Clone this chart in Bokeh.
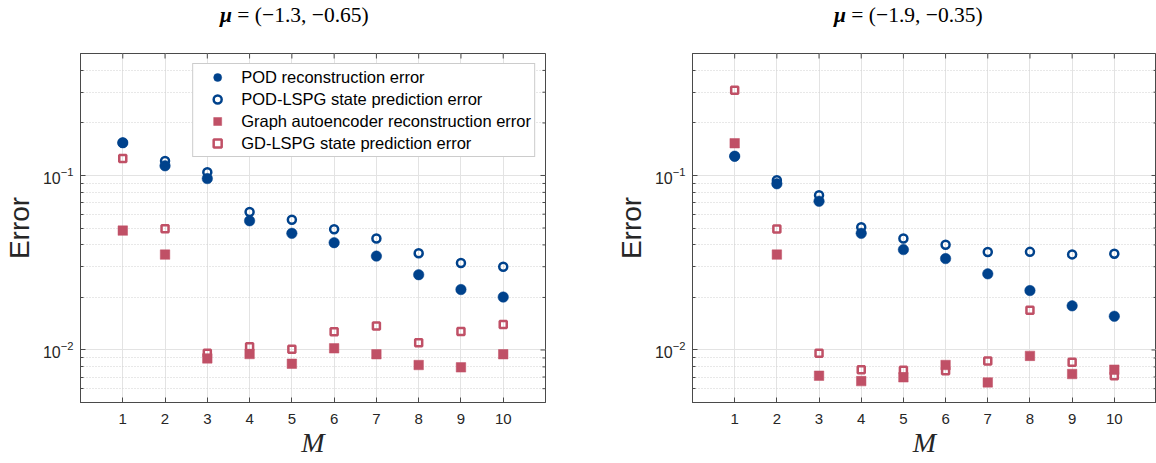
import math
from bokeh.plotting import figure
from bokeh.models import (Range1d, FixedTicker, Legend, LegendItem, Div,
                          LogTickFormatter)
from bokeh.layouts import row, column
from bokeh.embed import file_html
from bokeh.resources import INLINE

# ---------------- data ----------------
M = [1, 2, 3, 4, 5, 6, 7, 8, 9, 10]

titles = [("\u03bc", "= (\u22121.3, \u22120.65)"),
          ("\u03bc", "= (\u22121.9, \u22120.35)")]

# left panel  mu = (-1.3, -0.65)
pod_rec_L   = [0.154, 0.1136, 0.096, 0.055, 0.0466, 0.0412, 0.0345, 0.027, 0.0222, 0.0201]
pod_lspg_L  = [0.154, 0.121, 0.1045, 0.0618, 0.0558, 0.0492, 0.0435, 0.0358, 0.0315, 0.0300]
gae_rec_L   = [0.0483, 0.0352, 0.00895, 0.00948, 0.00834, 0.01022, 0.00945, 0.0082, 0.00795, 0.00945]
gd_lspg_L   = [0.125, 0.0495, 0.00957, 0.01045, 0.0101, 0.0127, 0.01374, 0.0110, 0.01274, 0.0140]

# right panel mu = (-1.9, -0.35)
pod_rec_R   = [0.129, 0.0896, 0.0712, 0.0466, 0.0376, 0.0334, 0.0273, 0.0219, 0.0179, 0.0156]
pod_lspg_R  = [0.129, 0.094, 0.077, 0.0505, 0.0435, 0.0401, 0.0364, 0.0365, 0.0353, 0.0356]
gae_rec_R   = [0.153, 0.0352, 0.00712, 0.00663, 0.00697, 0.0082, 0.00652, 0.00925, 0.00728, 0.00771]
gd_lspg_R   = [0.308, 0.0494, 0.00957, 0.0077, 0.00764, 0.0076, 0.00865, 0.0169, 0.0085, 0.00712]

legend_labels = ["POD reconstruction error",
                 "POD-LSPG state prediction error",
                 "Graph autoencoder reconstruction error",
                 "GD-LSPG state prediction error"]

x_lo, x_hi = 0, 11
y_lo, y_hi = 0.005, 0.5
y_major = [0.01, 0.1]
y_minor = [0.005, 0.006, 0.007, 0.008, 0.009,
           0.02, 0.03, 0.04, 0.05, 0.06, 0.07, 0.08, 0.09,
           0.2, 0.3, 0.4, 0.5]

BLUE = "#00428C"
PINK = "#C05066"
AX = "#4a4a4a"
TXT = "#262626"
SANS = "Liberation Sans"
SERIF = "Liberation Serif"

TITLE_H = 48


def make(width, ml, mr, data, show_legend):
    pod, podl, gae, gdl = data
    p = figure(width=width, height=463 - TITLE_H, x_range=Range1d(x_lo, x_hi),
               y_range=Range1d(y_lo, y_hi), y_axis_type="log",
               output_backend="svg", toolbar_location=None,
               min_border_left=ml, min_border_right=mr,
               min_border_top=53 - TITLE_H, min_border_bottom=61)
    p.margin = 0
    p.background_fill_color = "white"
    p.border_fill_color = "white"
    p.outline_line_color = AX
    p.outline_line_width = 1

    xt = FixedTicker(ticks=M)
    yt = FixedTicker(ticks=y_major, minor_ticks=y_minor)

    p.xaxis.ticker = xt
    p.yaxis.ticker = yt
    p.yaxis.formatter = LogTickFormatter()
    p.xgrid.ticker = xt
    p.ygrid.ticker = yt

    for g in (p.xgrid, p.ygrid):
        g.grid_line_color = "#e3e3e3"
        g.grid_line_width = 1
    p.ygrid.minor_grid_line_color = "#d0d0d0"
    p.ygrid.minor_grid_line_dash = "1 2"
    p.ygrid.minor_grid_line_width = 1

    for ax in (p.xaxis, p.yaxis):
        ax.axis_line_color = AX
        ax.major_tick_line_color = AX
        ax.minor_tick_line_color = AX
        ax.major_tick_in = 5
        ax.major_tick_out = 0
        ax.minor_tick_in = 3
        ax.minor_tick_out = 0
        ax.major_label_text_font = SANS
        ax.major_label_text_font_size = "15px"
        ax.major_label_text_color = TXT
    p.xaxis.major_label_standoff = 11
    p.yaxis.major_label_standoff = 7
    p.yaxis.major_label_text_font_size = "16px"

    p.xaxis.axis_label = "M"
    p.xaxis.axis_label_text_font = SERIF
    p.xaxis.axis_label_text_font_style = "italic"
    p.xaxis.axis_label_text_font_size = "28px"
    p.xaxis.axis_label_text_color = TXT
    p.xaxis.axis_label_standoff = 0

    p.yaxis.axis_label = "Error"
    p.yaxis.axis_label_text_font = SANS
    p.yaxis.axis_label_text_font_style = "normal"
    p.yaxis.axis_label_text_font_size = "28px"
    p.yaxis.axis_label_text_color = TXT
    p.yaxis.axis_label_standoff = 5

    # inward ticks on top and right edges (box style), clipped by the frame
    p.scatter(M, [y_hi] * len(M), marker="dash", angle=math.pi / 2, size=10,
              line_color=AX, line_width=1)
    p.scatter([x_hi] * len(y_major), y_major, marker="dash", size=10,
              line_color=AX, line_width=1)
    p.scatter([x_hi] * len(y_minor), y_minor, marker="dash", size=6,
              line_color=AX, line_width=1)

    r1 = p.scatter(M, pod, marker="circle", size=10.5, fill_color=BLUE,
                   line_color=BLUE, line_width=0.5)
    r2 = p.scatter(M, podl, marker="circle", size=8, fill_color=None,
                   line_color=BLUE, line_width=2.5)
    r3 = p.scatter(M, gae, marker="square", size=9.5, fill_color=PINK,
                   line_color=PINK, line_width=0.5)
    r4 = p.scatter(M, gdl, marker="square", size=7, fill_color=None,
                   line_color=PINK, line_width=2.5)

    if show_legend:
        leg = Legend(items=[LegendItem(label=legend_labels[0], renderers=[r1]),
                            LegendItem(label=legend_labels[1], renderers=[r2]),
                            LegendItem(label=legend_labels[2], renderers=[r3]),
                            LegendItem(label=legend_labels[3], renderers=[r4])],
                     location="top_right", margin=10, padding=3, spacing=2,
                     glyph_width=42, glyph_height=20, label_height=20,
                     label_standoff=3, label_text_font=SANS,
                     label_text_font_size="16.5px", label_text_color="black",
                     border_line_color="#9a9a9a", border_line_width=1,
                     background_fill_color="white", background_fill_alpha=1)
        p.add_layout(leg)
    return p


def title_div(width, left, t):
    html = ('<div style="position:relative; left:%dpx; top:3px; '
            'font-family:\'Liberation Serif\'; font-size:21.5px; line-height:1.15; '
            'white-space:nowrap; color:black;">'
            '<b><i>%s</i></b> %s</div>' % ((left,) + t))
    return Div(text=html, width=width, height=TITLE_H, margin=0)


p1 = make(580, 78, 35, (pod_rec_L, pod_lspg_L, gae_rec_L, gd_lspg_L), True)
p2 = make(576, 112, 0, (pod_rec_R, pod_lspg_R, gae_rec_R, gd_lspg_R), False)

left = column(title_div(580, 78 + 142, titles[0]), p1, spacing=0, margin=0)
right = column(title_div(576, 112 + 142, titles[1]), p2, spacing=0, margin=0)
layout = row(left, right, spacing=0, margin=0)
open("out.html", "w").write(file_html(layout, INLINE))
